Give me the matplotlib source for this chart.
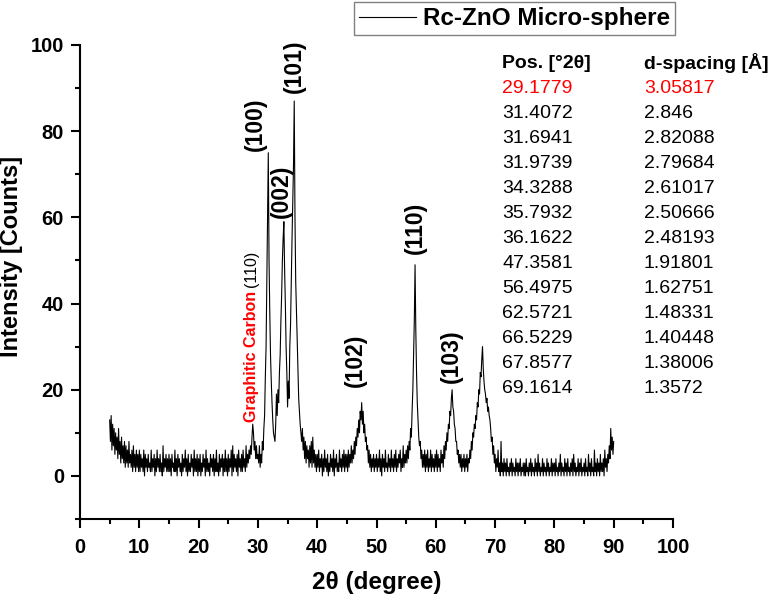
import numpy as np
import matplotlib.pyplot as plt
from matplotlib.ticker import MultipleLocator

plt.rcParams['font.family'] = ['Liberation Sans', 'DejaVu Sans']

# XRD scan, 2theta from 5 to 90 deg, 0.125 deg step (40 points per 5 deg row pair)
two_theta = np.linspace(5.0, 90.0, 681)
counts = [
    # 5
    13, 8, 14, 6, 12, 7, 11, 5, 10, 6, 9, 4, 11, 5, 8, 3, 9, 4, 7, 3,
    8, 2, 7, 3, 6, 2, 8, 3, 5, 2, 6, 1, 7, 2, 5, 1, 6, 2, 5, 1,
    # 10
    6, 1, 5, 2, 4, 1, 6, 0, 5, 2, 4, 1, 5, 2, 3, 1, 6, 1, 4, 2,
    5, 0, 4, 1, 6, 2, 4, 1, 5, 1, 3, 0, 7, 1, 4, 2, 5, 1, 4, 1,
    # 15
    5, 1, 4, 0, 5, 2, 3, 1, 6, 1, 4, 0, 5, 2, 4, 1, 3, 0, 5, 1,
    4, 2, 6, 1, 4, 0, 5, 1, 3, 1, 5, 2, 4, 0, 6, 1, 4, 1, 5, 0,
    # 20
    4, 1, 5, 0, 3, 1, 5, 2, 4, 0, 6, 1, 4, 1, 3, 0, 5, 2, 4, 1,
    5, 0, 4, 1, 6, 1, 3, 0, 5, 1, 4, 2, 5, 0, 4, 1, 6, 1, 4, 0,
    # 25
    5, 1, 4, 2, 6, 0, 7, 1, 5, 2, 4, 1, 5, 0, 6, 2, 4, 1, 5, 1,
    6, 2, 4, 1, 7, 2, 5, 3, 6, 4, 7, 5, 9, 12, 10, 6, 8, 4, 7, 4,
    # 30
    5, 3, 7, 2, 5, 3, 8, 6, 11, 14, 23, 30, 45, 58, 75, 50, 38, 28, 22, 17,
    13, 10, 9, 8, 12, 19, 14, 20, 17, 24, 28, 36, 42, 50, 55, 59, 48, 40, 30, 24,
    # 35
    16, 22, 18, 30, 35, 45, 55, 63, 72, 87, 60, 45, 38, 30, 24, 18, 15, 12, 10, 8,
    11, 6, 9, 4, 8, 3, 7, 4, 6, 2, 7, 3, 8, 2, 9, 3, 6, 2, 5, 1,
    # 40
    5, 2, 6, 1, 4, 2, 5, 0, 4, 1, 6, 2, 4, 1, 5, 0, 3, 1, 5, 2,
    4, 1, 6, 0, 4, 2, 5, 1, 3, 1, 6, 2, 4, 1, 5, 2, 6, 1, 5, 2,
    # 45
    5, 1, 6, 2, 5, 3, 7, 3, 6, 4, 8, 5, 9, 7, 11, 9, 13, 10, 15, 13,
    17, 12, 15, 10, 12, 8, 9, 6, 7, 3, 6, 2, 5, 1, 4, 2, 5, 1, 4, 2,
    # 50
    5, 1, 4, 2, 6, 1, 4, 0, 5, 2, 4, 1, 6, 2, 3, 1, 5, 2, 4, 1,
    6, 2, 4, 1, 5, 2, 6, 1, 4, 2, 5, 3, 6, 1, 4, 2, 7, 2, 5, 3,
    # 55
    6, 3, 7, 4, 8, 6, 11, 9, 15, 20, 28, 36, 49, 34, 24, 17, 13, 9, 7, 8,
    4, 6, 2, 5, 2, 6, 1, 5, 2, 6, 1, 4, 2, 6, 1, 5, 2, 4, 1, 5,
    # 60
    2, 6, 1, 5, 2, 4, 1, 6, 3, 5, 2, 7, 4, 8, 6, 10, 8, 12, 11, 15,
    14, 18, 20, 16, 15, 12, 11, 8, 8, 5, 6, 3, 5, 2, 5, 1, 4, 2, 5, 1,
    # 65
    4, 2, 5, 1, 4, 3, 6, 4, 8, 6, 10, 9, 12, 11, 14, 13, 17, 16, 20, 19,
    24, 23, 27, 30, 25, 22, 20, 19, 17, 18, 15, 16, 14, 13, 11, 8, 9, 5, 7, 3,
    # 70
    5, 1, 4, 2, 6, 1, 3, 0, 8, 1, 3, 0, 4, 1, 3, 0, 4, 1, 2, 0,
    3, 1, 4, 0, 3, 1, 2, 0, 4, 1, 3, 0, 3, 1, 4, 0, 2, 1, 3, 0,
    # 75
    3, 0, 4, 1, 2, 0, 3, 1, 4, 0, 3, 1, 2, 0, 4, 1, 3, 0, 5, 1,
    3, 0, 2, 1, 4, 0, 3, 1, 2, 0, 4, 1, 3, 0, 2, 1, 4, 0, 3, 1,
    # 80
    3, 0, 4, 1, 2, 0, 3, 1, 5, 0, 3, 1, 2, 0, 4, 1, 3, 0, 4, 1,
    2, 0, 3, 1, 4, 0, 5, 1, 3, 0, 2, 1, 4, 0, 3, 1, 4, 0, 2, 1,
    # 85
    3, 0, 4, 1, 2, 0, 5, 1, 3, 0, 4, 1, 2, 0, 6, 1, 3, 0, 4, 1,
    3, 0, 5, 1, 3, 1, 4, 0, 6, 2, 4, 1, 5, 3, 7, 4, 11, 6, 9, 5,
    # 90
    8,
]
assert len(counts) == len(two_theta)

# peak labels (hkl) and where they sit
hkl_labels = ['(100)', '(002)', '(101)', '(102)', '(110)', '(103)']
hkl_x = [29.5, 33.9, 36.1, 46.4, 56.5, 62.7]
hkl_y = [81.7, 66.1, 95.0, 26.9, 57.5, 27.8]

# peak list table
pos_2theta = ['29.1779', '31.4072', '31.6941', '31.9739', '34.3288', '35.7932',
              '36.1622', '47.3581', '56.4975', '62.5721', '66.5229', '67.8577',
              '69.1614']
d_spacing = ['3.05817', '2.846', '2.82088', '2.79684', '2.61017', '2.50666',
             '2.48193', '1.91801', '1.62751', '1.48331', '1.40448', '1.38006',
             '1.3572']

fig = plt.figure(figsize=(7.74, 6.0), dpi=100)
ax = fig.add_axes([0.1034, 0.135, 0.7661, 0.79])

ax.plot(two_theta, counts, color='black', lw=0.8, label='Rc-ZnO Micro-sphere')

ax.set_xlim(0, 100)
ax.set_ylim(-10, 100)
ax.xaxis.set_major_locator(MultipleLocator(10))
ax.xaxis.set_minor_locator(MultipleLocator(5))
ax.yaxis.set_major_locator(MultipleLocator(20))
ax.yaxis.set_minor_locator(MultipleLocator(10))
for s in ['top', 'right']:
    ax.spines[s].set_visible(False)
for s in ['left', 'bottom']:
    ax.spines[s].set_linewidth(1.5)
ax.tick_params(which='major', length=6.5, width=1.5, labelsize=14.5)
ax.tick_params(which='minor', length=3.5, width=1.5)
ax.tick_params(axis='x', which='major', pad=7)
ax.tick_params(axis='y', which='major', pad=5)
for lab in ax.get_xticklabels() + ax.get_yticklabels():
    lab.set_fontweight('bold')

ax.set_xlabel('2\u03b8 (degree)', fontsize=17.5, fontweight='bold', labelpad=10)
ax.set_ylabel('Intensity [Counts]', fontsize=17, fontweight='bold')
ax.yaxis.set_label_coords(-0.096, 0.553)

for lab, x, y in zip(hkl_labels, hkl_x, hkl_y):
    ax.text(x, y, lab, rotation=90, ha='center', va='center',
            fontsize=16.5, fontweight='bold')

ax.text(29.0, 12.5, 'Graphitic Carbon', rotation=90, ha='center', va='bottom',
        fontsize=11.5, fontweight='bold', color='red')
ax.text(29.0, 43.8, '(110)', rotation=90, ha='center', va='bottom', fontsize=11.5)

# table of peak positions
row_h = 5.8
ax.text(71.2, 95.8, 'Pos. [\u00b02\u03b8]', fontsize=14, fontweight='bold', va='center')
ax.text(95.1, 95.8, 'd-spacing [\u00c5]', fontsize=14, fontweight='bold', va='center',
        clip_on=False)
for i, (p, d) in enumerate(zip(pos_2theta, d_spacing)):
    c = 'red' if i == 0 else 'black'
    y = 95.8 - row_h * (i + 1)
    ax.text(71.2, y, p, fontsize=14, color=c, va='center')
    ax.text(95.1, y, d, fontsize=14, color=c, va='center', clip_on=False)

leg = ax.legend(loc='upper right', bbox_to_anchor=(1.0034, 1.09), borderaxespad=0,
                fancybox=False, framealpha=1, edgecolor='gray',
                prop={'weight': 'bold', 'size': 17.5}, handlelength=2.35,
                handletextpad=0.3, borderpad=0.2)
leg.get_frame().set_linewidth(1.0)

fig.savefig('out.png', dpi=100)
